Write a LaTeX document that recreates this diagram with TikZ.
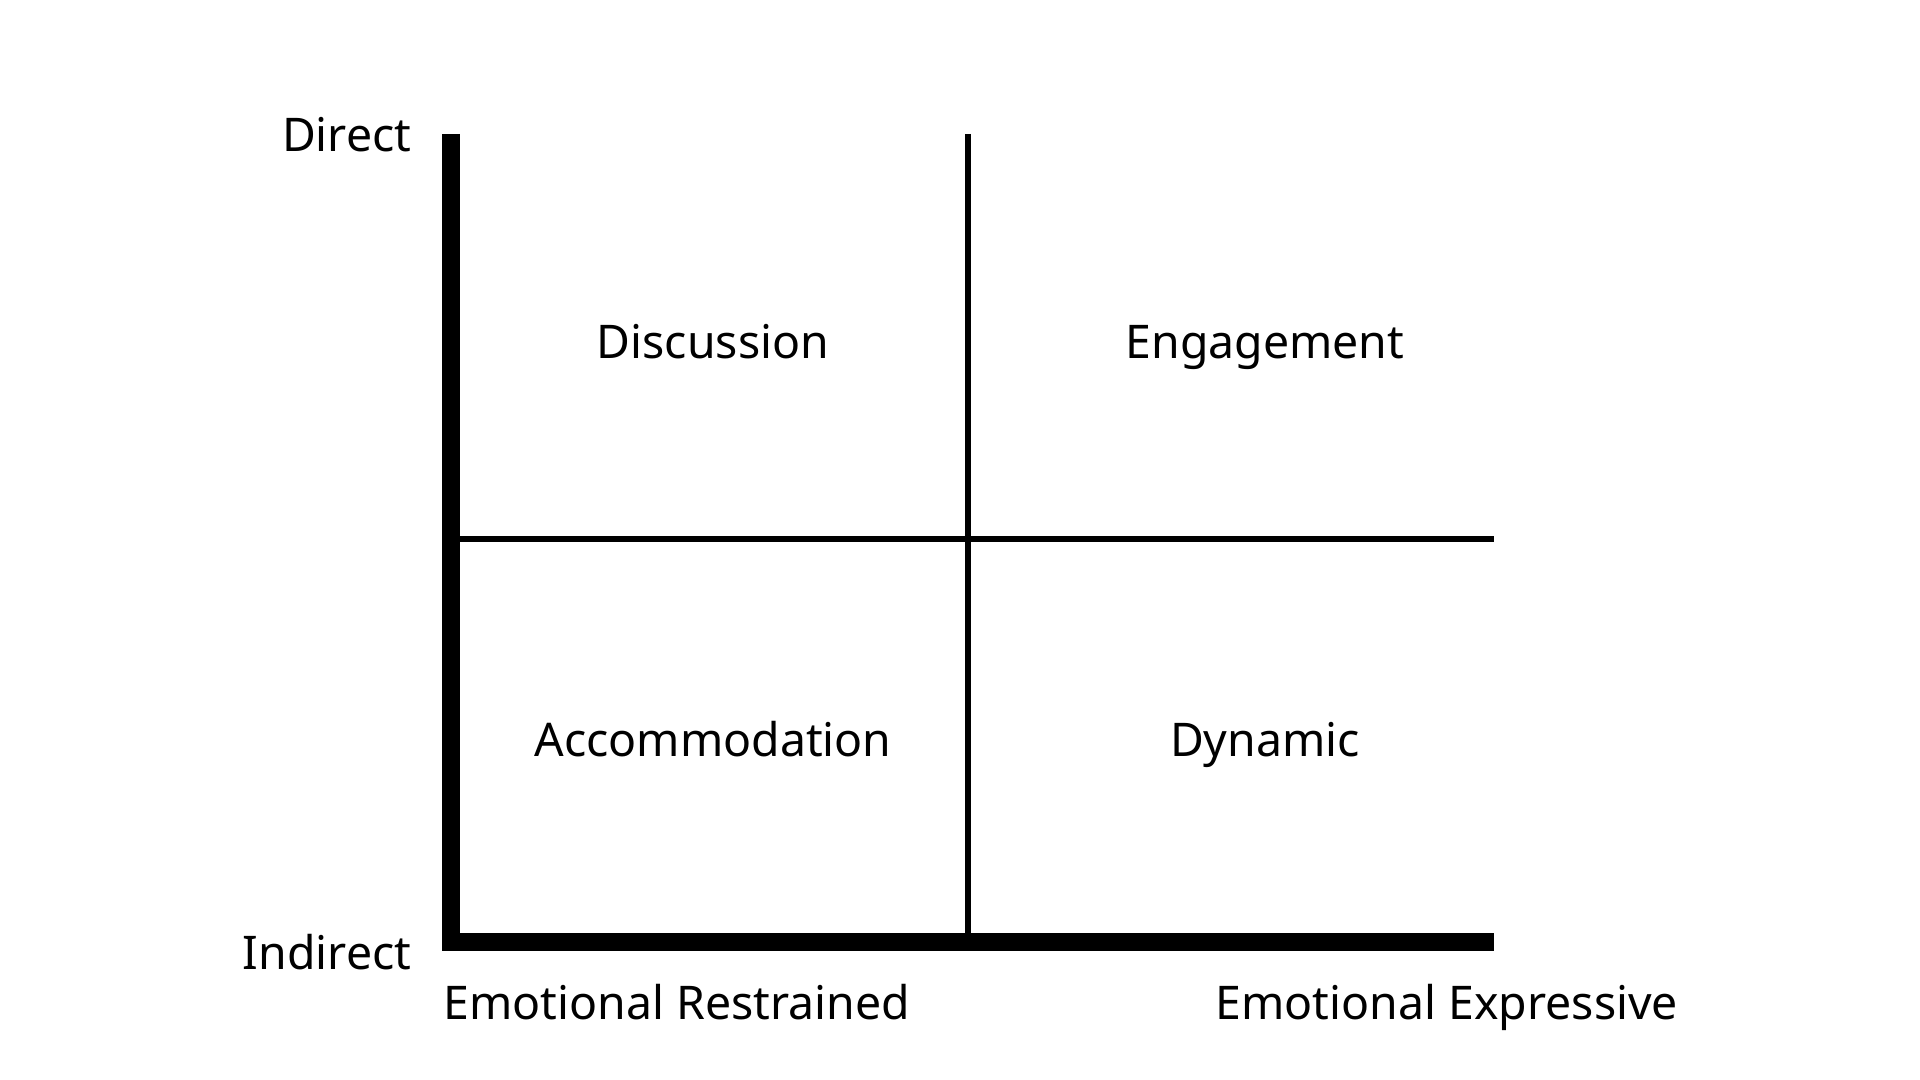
\documentclass[tikz,border=0pt]{standalone}
\usepackage{fontspec}
\setmainfont{Noto Sans}

\tikzset{
    axis/.style={line width=0.18cm, line join=miter},
    divider/.style={line width=0.06cm},
    axislabel/.style={font=\fontsize{13.2}{16}\selectfont, inner sep=0pt},
    quadlabel/.style={font=\fontsize{13.2}{16}\selectfont, inner sep=0pt, anchor=base}
}

\begin{document}
\begin{tikzpicture}
    \useasboundingbox (0,0) rectangle (19.2,10.8);

    % Main axes (L shape)
    \draw[axis] (4.51,9.46) -- (4.51,1.38) -- (14.94,1.38);

    % Quadrant dividers
    \draw[divider] (9.68,9.46) -- (9.68,1.38);
    \draw[divider] (4.51,5.41) -- (14.94,5.41);

    % Vertical axis labels
    \node[axislabel, anchor=base east] (direct) at (4.12,9.28) {Direct};
    \node[axislabel, anchor=base east] (indirect) at (4.12,1.10) {Indirect};

    % Horizontal axis labels
    \node[axislabel, anchor=base west] (restrained) at (4.43,0.60) {Emotional Restrained};
    \node[axislabel, anchor=base west] (expressive) at (12.15,0.60) {Emotional Expressive};

    % Quadrant names
    \node[quadlabel] (discussion) at (7.13,7.21) {Discussion};
    \node[quadlabel] (engagement) at (12.65,7.21) {Engagement};
    \node[quadlabel] (accommodation) at (7.13,3.23) {Accommodation};
    \node[quadlabel] (dynamic) at (12.65,3.23) {Dynamic};

\end{tikzpicture}
\end{document}
